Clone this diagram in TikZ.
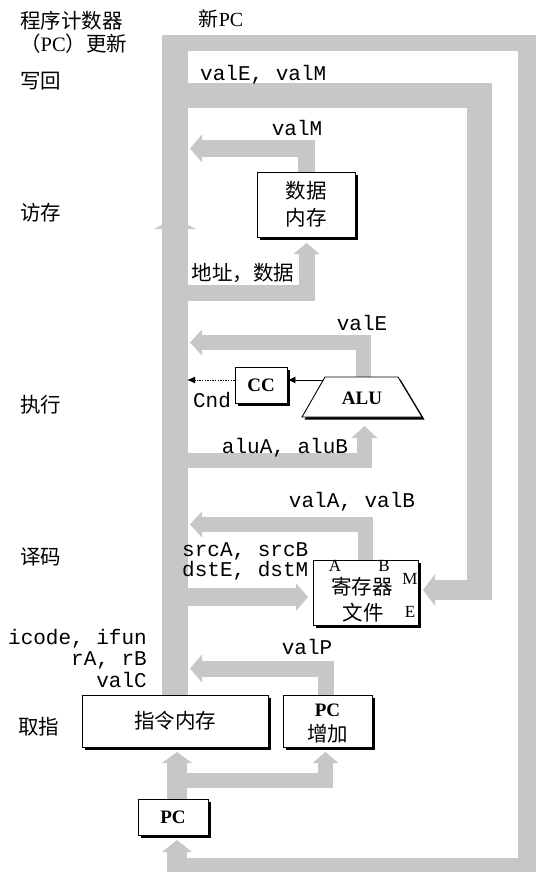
\documentclass[tikz,border=0pt]{standalone}
\usepackage{fontspec}
\setmainfont{Liberation Serif}
\setmonofont{Liberation Mono}
\newfontfamily\cjk{Noto Sans CJK SC}
\usetikzlibrary{arrows.meta,shadows}
\definecolor{bandgray}{gray}{0.78}
\newcommand\tipleft[3]{\fill[bandgray] (#1,#2) -- ++(12,-#3) -- ++(0,2*#3) -- cycle;}
\newcommand\tipright[3]{\fill[bandgray] (#1,#2) -- ++(-12,-#3) -- ++(0,2*#3) -- cycle;}
\newcommand\tipup[4]{\fill[bandgray] (#1,#2) -- ++(-#3,#4) -- ++(2*#3,0) -- cycle;}
\begin{document}
\begin{tikzpicture}[x=1pt,y=-1pt,
  band/.style={draw=bandgray,line width=#1,line join=miter,line cap=butt},
  box/.style={draw,line width=0.9pt,fill=white,inner sep=0pt,align=center,
     drop shadow={shadow xshift=2.5pt,shadow yshift=-2.5pt,fill=black,opacity=1}},
  cjkt/.style={font=\cjk\fontsize{20.5}{27}\selectfont,inner sep=0pt},
  mono/.style={font=\ttfamily\fontsize{21}{23}\selectfont,inner sep=0pt},
  bold/.style={font=\bfseries\fontsize{19}{22}\selectfont,inner sep=0pt},
  serif/.style={font=\fontsize{17}{20}\selectfont,inner sep=0pt}
]
\useasboundingbox (0,0) rectangle (537,872);

% ---------- gray bands ----------
% main left column
\draw[band=26pt] (175,695) -- (175,35);
\tipup{175}{218}{21}{11}
% outer new-PC loop
\draw[band=16pt] (162,43) -- (536,43);
\draw[band=18pt] (527,35) -- (527,872);
\draw[band=14pt] (167,865) -- (536,865);
\draw[band=20pt] (177,872) -- (177,851);
\tipup{177}{840}{15}{12}
% write back valE, valM
\draw[band=25pt] (188,96) -- (479.5,96) -- (479.5,600);
\draw[band=20pt] (492,590) -- (435,590);
\tipleft{423}{590}{16}
% memory
\draw[band=17pt] (306.5,172) -- (306.5,148.5) -- (202,148.5);
\tipleft{190}{148.5}{14}
\draw[band=16pt] (188,292.5) -- (306.5,292.5) -- (306.5,254);
\tipup{306.5}{243}{13}{11}
% execute
\draw[band=15pt] (363.5,377) -- (363.5,342.5) -- (202,342.5);
\tipleft{190}{342.5}{13}
\draw[band=15pt] (188,460) -- (364.5,460) -- (364.5,438);
\tipup{364.5}{426}{13}{12}
% decode
\draw[band=15pt] (365,560) -- (365,524.5) -- (202,524.5);
\tipleft{190}{524.5}{13}
\draw[band=18pt] (188,597) -- (296,597);
\tipright{308}{597}{14}
% fetch
\draw[band=16pt] (325.5,695) -- (325.5,668.5) -- (202,668.5);
\tipleft{190}{668.5}{14}
\draw[band=20pt] (177,799) -- (177,763);
\tipup{177}{752}{15}{11}
\draw[band=15pt] (177,780.5) -- (325.5,780.5) -- (325.5,763);
\tipup{325.5}{752}{13}{11}

% ---------- boxes ----------
\node[box,cjkt,minimum width=98pt,minimum height=65pt] (dmem) at (306,204.5) {数据\\内存};
\node[box,minimum width=52pt,minimum height=36pt] (cc) at (261,385) {};
\node[bold] (cctext) at (cc.center) {CC};
\filldraw[fill=white,line width=0.9pt,
  drop shadow={shadow xshift=2.5pt,shadow yshift=-2.5pt,fill=black,opacity=1}]
  (325,377) -- (398,377) -- (422,417) -- (302,417) -- cycle;
\node[bold] (alu) at (362,398) {ALU};
\node[box,minimum width=105pt,minimum height=65pt] (rf) at (365.5,592.5) {};
\node[cjkt] (rf1) at (362,587) {寄存器};
\node[cjkt] (rf2) at (363,613) {文件};
\node[serif] (pa) at (335,566) {A};
\node[serif] (pb) at (384,566) {B};
\node[serif] (pm) at (410,579) {M};
\node[serif] (pe) at (410,612) {E};
\node[box,cjkt,minimum width=186pt,minimum height=52pt] (imem) at (175,721) {指令内存};
\node[box,minimum width=89pt,minimum height=52pt] (pcinc) at (327.5,721) {};
\node[bold] (pcinc1) at (327.5,710) {PC};
\node[cjkt] (pcinc2) at (327.5,734) {增加};
\node[box,bold,minimum width=70pt,minimum height=36pt] (pc) at (173,817) {PC};

% ---------- thin arrows ----------
\coordinate (aluL) at (323,380);
\coordinate (cndtip) at (187,380);
\draw[line width=0.8pt,-{Latex[length=8pt,width=7pt]}] (aluL) -- (cc.east |- aluL);
\draw[line width=1pt,dash pattern=on 1.3pt off 1.3pt,-{Latex[length=8pt,width=7pt]}] (cc.west |- aluL) -- (cndtip);

% ---------- labels ----------
\node[cjkt,anchor=west] (l1) at (20,21) {程序计数器};
\node[cjkt,anchor=west] (l2) at (20,44) {（\textrm{PC}）更新};
\node[cjkt,anchor=west] (l3) at (20,81) {写回};
\node[cjkt,anchor=west] (l4) at (20,213) {访存};
\node[cjkt,anchor=west] (l5) at (20,405) {执行};
\node[cjkt,anchor=west] (l6) at (20,557) {译码};
\node[cjkt,anchor=west] (l7) at (18,727) {取指};
\node[inner sep=0pt,font=\fontsize{20}{22}\selectfont] (newpc) at (221,19) {{\cjk 新}PC};

\node[mono,anchor=west] (t1) at (200,75) {valE, valM};
\node[mono] (t2) at (297,128) {valM};
\node[cjkt] (t3) at (243,273) {地址，数据};
\node[mono] (t4) at (362,323) {valE};
\node[mono] (t5) at (212,400) {Cnd};
\node[mono] (t6) at (285,448) {aluA, aluB};
\node[mono] (t7) at (352,502) {valA, valB};
\node[mono,anchor=west,align=left,font=\ttfamily\fontsize{21}{18}\selectfont] (t8) at (182,561) {srcA, srcB\\dstE, dstM};
\node[mono] (t10) at (307,647) {valP};
\node[mono,anchor=north east,align=right,font=\ttfamily\fontsize{21}{21.5}\selectfont] (t11) at (147,629) {icode, ifun\\rA, rB\\valC};
\end{tikzpicture}
\end{document}
